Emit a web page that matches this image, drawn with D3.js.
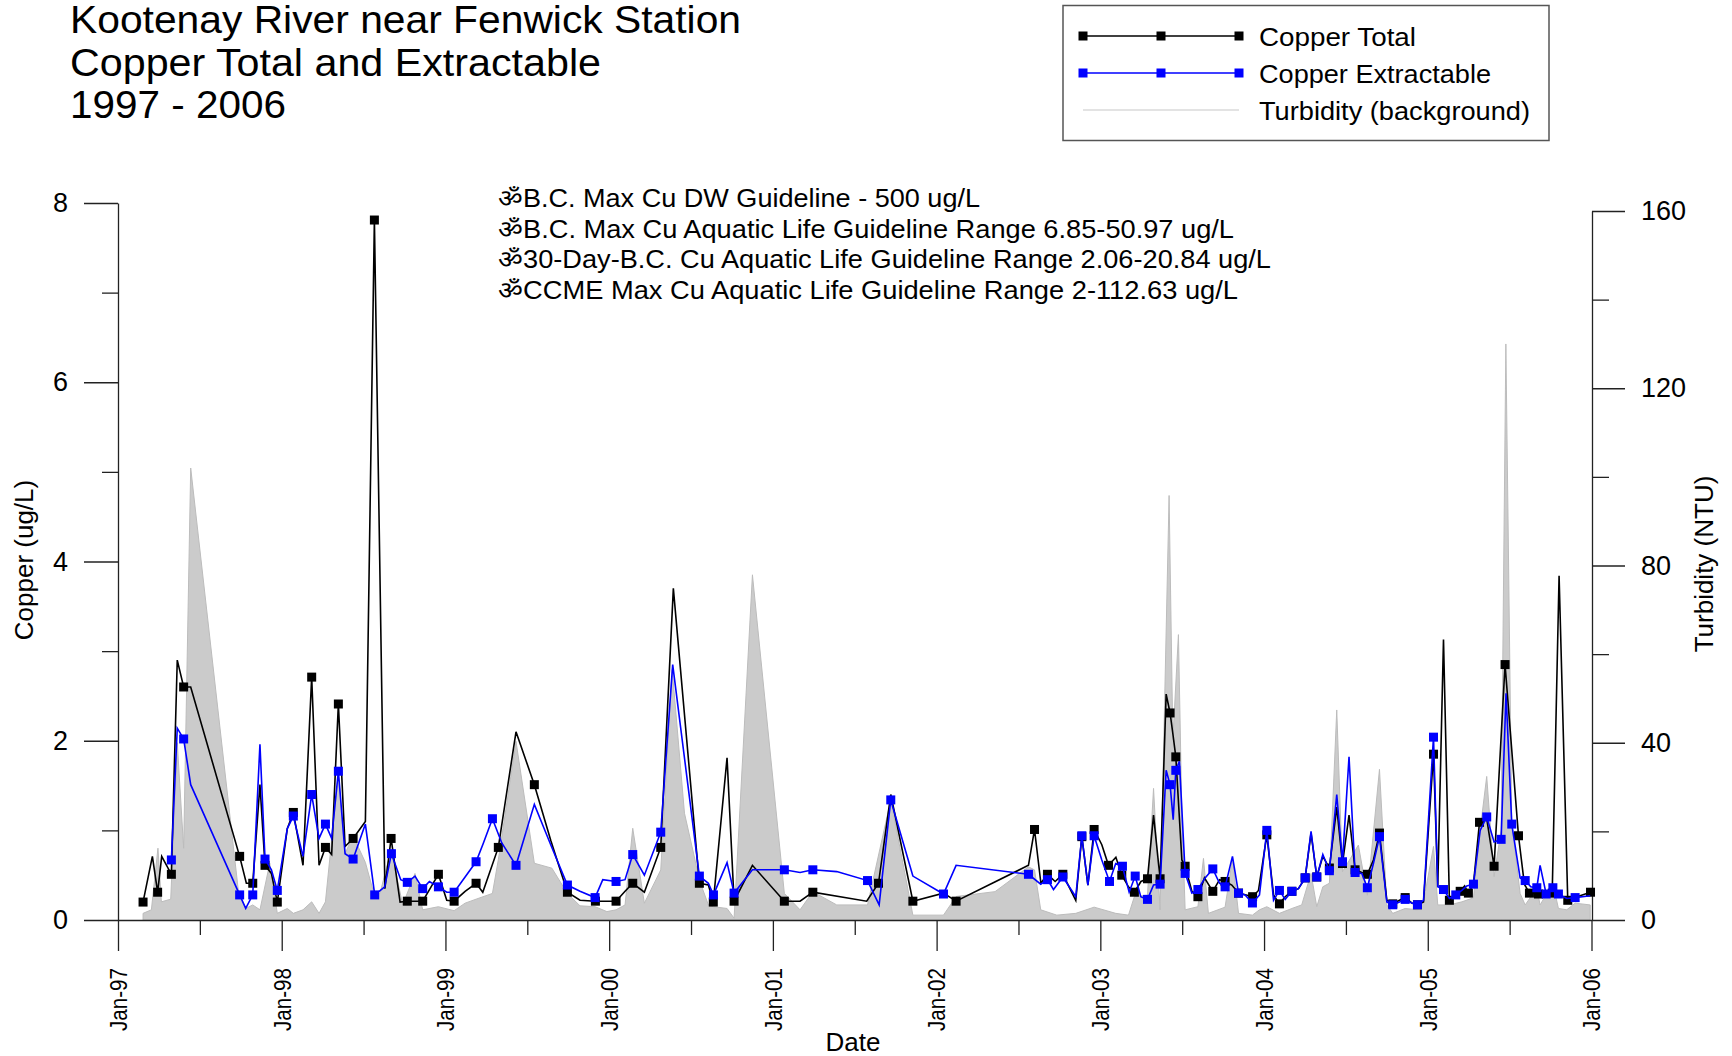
<!DOCTYPE html>
<html>
<head>
<meta charset="utf-8">
<script src="https://cdn.jsdelivr.net/npm/d3@7"></script>
<style>
  body { margin: 0; background: #fff; }
  svg { display: block; font-family: "Liberation Sans", Arial, sans-serif; }
</style>
</head>
<body>
<svg id="chart" width="1732" height="1056"></svg>
<script>
// ---- data ----
var titleLines = ["Kootenay River near Fenwick Station", "Copper Total and Extractable", "1997 - 2006"];
var legendLabels = ["Copper Total", "Copper Extractable", "Turbidity (background)"];
var guidelineNotes = [
  "\u0950B.C. Max Cu DW Guideline - 500 ug/L",
  "\u0950B.C. Max Cu Aquatic Life Guideline Range 6.85-50.97 ug/L",
  "\u095030-Day-B.C. Cu Aquatic Life Guideline Range 2.06-20.84 ug/L",
  "\u0950CCME Max Cu Aquatic Life Guideline Range 2-112.63 ug/L"
];
var dateLabels = ["Jan-97", "Jan-98", "Jan-99", "Jan-00", "Jan-01", "Jan-02", "Jan-03", "Jan-04", "Jan-05", "Jan-06"];
var copperTicks = [0, 2, 4, 6, 8];
var turbidityTicks = [0, 40, 80, 120, 160];

// [decimal year, ug/L, sample symbol shown (1) or not (0)]
var copperTotal = [
  [1997.153,0.20,1],[1997.210,0.71,0],[1997.242,0.31,1],[1997.267,0.71,0],[1997.326,0.51,1],
  [1997.362,2.90,0],[1997.401,2.60,1],[1997.444,2.60,0],[1997.743,0.71,1],[1997.784,0.41,0],
  [1997.823,0.41,1],[1997.867,1.51,0],[1997.898,0.61,1],[1997.937,0.52,0],[1997.973,0.20,1],
  [1998.034,1.02,0],[1998.071,1.20,1],[1998.130,0.61,0],[1998.183,2.71,1],[1998.228,0.61,0],
  [1998.267,0.81,1],[1998.305,0.73,0],[1998.346,2.41,1],[1998.387,0.82,0],[1998.436,0.91,1],
  [1998.511,1.10,0],[1998.566,7.81,1],[1998.630,0.35,0],[1998.668,0.91,1],[1998.723,0.20,0],
  [1998.767,0.21,1],[1998.814,0.21,0],[1998.861,0.21,1],[1998.906,0.35,0],[1998.957,0.51,1],
  [1999.008,0.22,0],[1999.053,0.21,1],[1999.120,0.32,0],[1999.187,0.41,1],[1999.228,0.31,0],
  [1999.323,0.81,1],[1999.431,2.10,0],[1999.543,1.51,1],[1999.643,0.89,0],[1999.745,0.31,1],
  [1999.822,0.22,0],[1999.916,0.21,1],[1999.986,0.21,0],[2000.042,0.21,1],[2000.097,0.32,0],
  [2000.144,0.41,1],[2000.215,0.31,0],[2000.315,0.81,1],[2000.392,3.70,0],[2000.551,0.41,1],
  [2000.606,0.39,0],[2000.636,0.20,1],[2000.720,1.81,0],[2000.763,0.21,1],[2000.875,0.61,0],
  [2001.070,0.21,1],[2001.166,0.21,0],[2001.244,0.31,1],[2001.573,0.21,0],[2001.645,0.41,1],
  [2001.720,1.40,0],[2001.855,0.21,1],[2002.042,0.30,0],[2002.119,0.21,1],[2002.561,0.61,0],
  [2002.598,1.01,1],[2002.637,0.41,0],[2002.677,0.51,1],[2002.724,0.43,0],[2002.771,0.51,1],
  [2002.850,0.22,0],[2002.887,0.93,1],[2002.924,0.39,0],[2002.962,1.01,1],[2003.009,0.84,0],
  [2003.050,0.61,1],[2003.095,0.70,0],[2003.131,0.50,1],[2003.172,0.37,0],[2003.208,0.31,1],
  [2003.248,0.43,0],[2003.288,0.46,1],[2003.325,1.17,0],[2003.365,0.46,1],[2003.402,2.52,0],
  [2003.426,2.31,1],[2003.445,2.05,0],[2003.461,1.82,1],[2003.498,0.67,0],[2003.518,0.60,1],
  [2003.559,0.32,0],[2003.596,0.26,1],[2003.636,0.47,0],[2003.687,0.32,1],[2003.728,0.45,0],
  [2003.762,0.43,1],[2003.803,0.39,0],[2003.844,0.30,1],[2003.891,0.28,0],[2003.930,0.26,1],
  [2003.966,0.33,0],[2004.017,0.95,1],[2004.058,0.28,0],[2004.094,0.18,1],[2004.129,0.26,0],
  [2004.170,0.32,1],[2004.210,0.35,0],[2004.251,0.47,1],[2004.287,0.97,0],[2004.322,0.48,1],
  [2004.359,0.71,0],[2004.399,0.58,1],[2004.444,1.26,0],[2004.479,0.63,1],[2004.519,1.17,0],
  [2004.556,0.56,1],[2004.597,0.53,0],[2004.631,0.51,1],[2004.668,0.67,0],[2004.705,0.97,1],
  [2004.750,0.22,0],[2004.786,0.18,1],[2004.827,0.22,0],[2004.862,0.25,1],[2004.902,0.19,0],
  [2004.937,0.17,1],[2004.974,0.20,0],[2005.035,1.85,1],[2005.061,0.37,0],[2005.096,3.13,0],
  [2005.132,0.22,1],[2005.171,0.28,0],[2005.198,0.32,1],[2005.225,0.38,0],[2005.248,0.30,1],
  [2005.279,0.40,0],[2005.316,1.09,1],[2005.360,1.13,0],[2005.405,0.60,1],[2005.472,2.85,1],
  [2005.554,0.94,1],[2005.590,0.40,0],[2005.621,0.30,1],[2005.650,0.30,0],[2005.676,0.29,1],
  [2005.727,0.29,0],[2005.760,0.30,1],[2005.802,3.84,0],[2005.855,0.22,1],[2005.930,0.27,0],
  [2005.994,0.31,1]
];

var copperExtractable = [
  [1997.326,0.67,1],[1997.362,2.14,0],[1997.401,2.02,1],[1997.444,1.51,0],[1997.743,0.28,1],
  [1997.780,0.13,0],[1997.823,0.28,1],[1997.867,1.96,0],[1997.898,0.68,1],[1997.937,0.56,0],
  [1997.973,0.33,1],[1998.034,1.02,0],[1998.071,1.16,1],[1998.130,0.71,0],[1998.183,1.40,1],
  [1998.228,0.91,0],[1998.267,1.07,1],[1998.305,0.91,0],[1998.346,1.66,1],[1998.387,0.74,0],
  [1998.436,0.68,1],[1998.511,1.07,0],[1998.568,0.28,1],[1998.629,0.37,0],[1998.670,0.74,1],
  [1998.727,0.45,0],[1998.767,0.42,1],[1998.814,0.49,0],[1998.861,0.35,1],[1998.902,0.43,0],
  [1998.957,0.37,1],[1999.008,0.31,0],[1999.053,0.31,1],[1999.120,0.48,0],[1999.187,0.65,1],
  [1999.232,0.86,0],[1999.287,1.13,1],[1999.344,0.86,0],[1999.431,0.61,1],[1999.543,1.29,0],
  [1999.643,0.84,0],[1999.745,0.39,1],[1999.822,0.32,0],[1999.914,0.25,1],[1999.961,0.45,0],
  [2000.042,0.43,1],[2000.097,0.45,0],[2000.144,0.73,1],[2000.215,0.50,0],[2000.315,0.98,1],
  [2000.388,2.85,0],[2000.551,0.49,1],[2000.606,0.41,0],[2000.637,0.28,1],[2000.720,0.64,0],
  [2000.763,0.30,1],[2000.875,0.56,0],[2001.070,0.56,1],[2001.166,0.53,0],[2001.244,0.56,1],
  [2001.390,0.54,0],[2001.578,0.44,1],[2001.649,0.17,0],[2001.720,1.34,1],[2001.855,0.49,0],
  [2002.042,0.29,1],[2002.119,0.61,0],[2002.561,0.51,1],[2002.636,0.40,0],[2002.677,0.45,1],
  [2002.714,0.34,0],[2002.771,0.48,1],[2002.850,0.26,0],[2002.887,0.94,1],[2002.924,0.39,0],
  [2002.962,0.94,1],[2003.009,0.67,0],[2003.056,0.43,1],[2003.094,0.63,0],[2003.135,0.60,1],
  [2003.176,0.31,0],[2003.213,0.49,1],[2003.247,0.26,0],[2003.288,0.23,1],[2003.325,0.39,0],
  [2003.365,0.40,1],[2003.402,1.67,0],[2003.426,1.51,1],[2003.445,1.12,0],[2003.461,1.67,1],
  [2003.483,1.77,0],[2003.518,0.52,1],[2003.559,0.30,0],[2003.596,0.34,1],[2003.640,0.47,0],
  [2003.687,0.57,1],[2003.728,0.41,0],[2003.762,0.37,1],[2003.807,0.71,0],[2003.844,0.30,1],
  [2003.884,0.28,0],[2003.929,0.19,1],[2003.972,0.28,0],[2004.017,1.00,1],[2004.058,0.22,0],
  [2004.094,0.33,1],[2004.129,0.23,0],[2004.170,0.32,1],[2004.210,0.35,0],[2004.251,0.47,1],
  [2004.287,0.99,0],[2004.322,0.48,1],[2004.359,0.73,0],[2004.399,0.55,1],[2004.444,1.40,0],
  [2004.479,0.65,1],[2004.519,1.82,0],[2004.556,0.53,1],[2004.597,0.52,0],[2004.631,0.36,1],
  [2004.668,0.63,0],[2004.705,0.93,1],[2004.750,0.20,0],[2004.786,0.17,1],[2004.827,0.20,0],
  [2004.862,0.23,1],[2004.902,0.19,0],[2004.937,0.17,1],[2004.974,0.22,0],[2005.035,2.04,1],
  [2005.061,0.37,0],[2005.096,0.34,1],[2005.132,0.24,0],[2005.171,0.28,1],[2005.208,0.33,0],
  [2005.238,0.38,0],[2005.279,0.40,1],[2005.320,1.00,0],[2005.360,1.15,1],[2005.405,0.87,0],
  [2005.448,0.90,1],[2005.478,2.53,0],[2005.513,1.07,1],[2005.564,0.47,0],[2005.595,0.44,1],
  [2005.629,0.37,0],[2005.666,0.36,1],[2005.686,0.61,0],[2005.723,0.29,1],[2005.745,0.33,0],
  [2005.764,0.36,1],[2005.782,0.31,0],[2005.798,0.29,1],[2005.849,0.24,0],[2005.900,0.25,1],
  [2005.992,0.27,0]
];

// [decimal year, NTU]
var turbidity = [
  [1997.153,1.5],[1997.204,2.3],[1997.244,16.2],[1997.265,4.1],[1997.322,4.7],[1997.362,40],
  [1997.401,16.2],[1997.444,102],[1997.737,6.0],[1997.780,2.6],[1997.823,3.4],[1997.867,2.3],
  [1997.927,12.8],[1997.973,1.5],[1998.034,2.6],[1998.071,1.5],[1998.130,2.3],[1998.183,4.1],
  [1998.228,1.5],[1998.267,4.1],[1998.346,33],[1998.387,15],[1998.436,19],[1998.511,13],
  [1998.568,5.3],[1998.600,6],[1998.668,15.8],[1998.739,3.4],[1998.814,10.5],[1998.861,2.3],
  [1998.957,3.0],[1999.053,2.1],[1999.120,3.8],[1999.187,4.7],[1999.287,6.0],[1999.323,13.6],
  [1999.431,40.3],[1999.543,12.8],[1999.650,11.7],[1999.745,6.0],[1999.822,3.2],[1999.914,3.0],
  [1999.986,1.9],[2000.042,2.3],[2000.097,3.4],[2000.144,20.7],[2000.215,3.8],[2000.315,11.3],
  [2000.385,56.5],[2000.460,24.1],[2000.515,15.1],[2000.551,9.0],[2000.606,3.4],[2000.637,3.0],
  [2000.720,2.6],[2000.763,0.4],[2000.875,77.9],[2001.070,6.0],[2001.166,2.3],[2001.244,6.4],
  [2001.390,3.4],[2001.578,3.4],[2001.720,27.1],[2001.855,1.1],[2002.042,1.1],[2002.119,5.3],
  [2002.357,6.4],[2002.561,12.0],[2002.598,11.3],[2002.636,2.3],[2002.734,1.1],[2002.850,1.5],
  [2002.962,2.9],[2003.094,1.5],[2003.172,1.1],[2003.208,5.3],[2003.288,5.6],[2003.325,29.7],
  [2003.365,2.3],[2003.420,95.8],[2003.443,40.7],[2003.477,64.4],[2003.498,24],[2003.518,2.3],
  [2003.596,3.0],[2003.630,13.9],[2003.660,1.5],[2003.762,2.9],[2003.807,13.9],[2003.844,1.5],
  [2003.929,1.1],[2003.972,2.3],[2004.017,3.0],[2004.094,1.5],[2004.170,2.6],[2004.230,3.4],
  [2004.287,10.5],[2004.322,3.0],[2004.359,7.5],[2004.399,8.3],[2004.444,47.4],[2004.479,10.9],
  [2004.576,16.9],[2004.631,5.6],[2004.705,34.0],[2004.750,3.4],[2004.786,1.5],[2004.862,2.6],
  [2004.937,2.3],[2004.974,4.1],[2005.035,16.6],[2005.061,3.4],[2005.132,3.4],[2005.208,4.1],
  [2005.279,5.0],[2005.320,20.3],[2005.360,32.4],[2005.405,9.8],[2005.448,20.3],[2005.477,130],
  [2005.513,21.8],[2005.564,6.0],[2005.595,3.4],[2005.666,7.2],[2005.686,3.4],[2005.764,8.3],
  [2005.798,2.6],[2005.849,2.3],[2005.900,3.8],[2005.992,3.4]
];

// ---- chart ----
var svg = d3.select('#chart');
var axisColor = '#222';

var x = d3.scaleLinear().domain([1997, 2006]).range([118, 1591.5]);
var yCu = d3.scaleLinear().domain([0, 8]).range([920, 203]);
var yTurb = d3.scaleLinear().domain([0, 160]).range([920, 211]);

// stretch a text element to a measured width
function fit(sel, w) {
  sel.attr('textLength', w).attr('lengthAdjust', 'spacingAndGlyphs');
}

// turbidity as grey background area
var area = d3.area()
  .x(function(d) { return x(d[0]); })
  .y0(yTurb(0))
  .y1(function(d) { return yTurb(d[1]); });

svg.append('path')
  .datum(turbidity)
  .attr('d', area)
  .attr('fill', '#cbcbcb')
  .attr('stroke', '#bcbcbc')
  .attr('stroke-width', 1);

// axes
function styleAxis(g) {
  g.selectAll('path, line').attr('stroke', axisColor).attr('stroke-width', 1.3);
  g.attr('font-family', null).attr('font-size', null);
}

// left copper axis
svg.append('g')
  .attr('transform', 'translate(118,0)')
  .call(d3.axisLeft(yCu).tickValues(copperTicks).tickSize(34).tickSizeOuter(0).tickPadding(16))
  .call(styleAxis)
  .selectAll('text').attr('font-size', 27).attr('fill', '#000');
svg.append('g')
  .attr('transform', 'translate(118,0)')
  .call(d3.axisLeft(yCu).tickValues([1, 3, 5, 7]).tickSize(16).tickSizeOuter(0).tickFormat(''))
  .call(styleAxis)
  .select('.domain').remove();

// right turbidity axis
svg.append('g')
  .attr('transform', 'translate(1592,0)')
  .call(d3.axisRight(yTurb).tickValues(turbidityTicks).tickSize(33).tickSizeOuter(0).tickPadding(16))
  .call(styleAxis)
  .selectAll('text').attr('font-size', 27).attr('fill', '#000');
svg.append('g')
  .attr('transform', 'translate(1592,0)')
  .call(d3.axisRight(yTurb).tickValues([20, 60, 100, 140]).tickSize(17).tickSizeOuter(0).tickFormat(''))
  .call(styleAxis)
  .select('.domain').remove();

// bottom date axis
var years = d3.range(1997, 2007);
var xAxisG = svg.append('g')
  .attr('transform', 'translate(0,920)')
  .call(d3.axisBottom(x).tickValues(years).tickSize(31).tickSizeOuter(0)
    .tickFormat(function(d, i) { return dateLabels[i]; }))
  .call(styleAxis);
xAxisG.selectAll('text')
  .attr('font-size', 23)
  .attr('fill', '#000')
  .attr('transform', 'rotate(-90)')
  .attr('x', -48)
  .attr('y', 0)
  .attr('dy', '0.36em')
  .style('text-anchor', 'end')
  .each(function() { fit(d3.select(this), 63); });
svg.append('g')
  .attr('transform', 'translate(0,920)')
  .call(d3.axisBottom(x).tickValues(years.slice(0, -1).map(function(y) { return y + 0.5; }))
    .tickSize(15).tickSizeOuter(0).tickFormat(''))
  .call(styleAxis)
  .select('.domain').remove();

// axis titles
svg.append('text')
  .attr('transform', 'translate(33,560) rotate(-90)')
  .attr('text-anchor', 'middle')
  .attr('font-size', 26)
  .text('Copper (ug/L)');
svg.append('text')
  .attr('transform', 'translate(1713,564) rotate(-90)')
  .attr('text-anchor', 'middle')
  .attr('font-size', 26)
  .text('Turbidity (NTU)');
svg.append('text')
  .attr('x', 853)
  .attr('y', 1051)
  .attr('text-anchor', 'middle')
  .attr('font-size', 26)
  .text('Date');

// copper series: total (black) below extractable (blue)
var line = d3.line()
  .x(function(d) { return x(d[0]); })
  .y(function(d) { return yCu(d[1]); });

function drawSeries(data, color) {
  svg.append('path')
    .datum(data)
    .attr('d', line)
    .attr('fill', 'none')
    .attr('stroke', color)
    .attr('stroke-width', 1.6)
    .attr('stroke-linejoin', 'miter');
  svg.append('g').selectAll('rect')
    .data(data.filter(function(d) { return d[2]; }))
    .enter().append('rect')
    .attr('x', function(d) { return x(d[0]) - 4.5; })
    .attr('y', function(d) { return yCu(d[1]) - 4.5; })
    .attr('width', 9)
    .attr('height', 9)
    .attr('fill', color);
}
drawSeries(copperTotal, '#000');
drawSeries(copperExtractable, '#0000ff');

// guideline notes
var notes = svg.append('g').attr('font-size', 25);
var noteWidths = [482, 736, 773, 740];
guidelineNotes.forEach(function(t, i) {
  notes.append('text')
    .attr('x', 498)
    .attr('y', 207 + i * 30.5)
    .text(t)
    .call(fit, noteWidths[i]);
});

// title (condensed, taller lettering as in the original)
var titleWidths = [671, 531, 216];
titleLines.forEach(function(t, i) {
  svg.append('text')
    .attr('x', 70)
    .attr('y', 33 + i * 42.5)
    .attr('font-size', 38)
    .text(t)
    .call(fit, titleWidths[i]);
});

// legend
var legend = svg.append('g');
legend.append('rect')
  .attr('x', 1063).attr('y', 5.5)
  .attr('width', 486).attr('height', 135)
  .attr('fill', '#fff')
  .attr('stroke', '#555')
  .attr('stroke-width', 1.5);
var legendColors = ['#000', '#0000ff', '#c8c8c8'];
var legendWidths = [157, 232, 271];
legendLabels.forEach(function(label, i) {
  var cy = 36 + i * 37;
  legend.append('line')
    .attr('x1', 1083).attr('x2', 1239)
    .attr('y1', cy).attr('y2', cy)
    .attr('stroke', legendColors[i])
    .attr('stroke-width', i < 2 ? 1.6 : 1.2);
  if (i < 2) {
    [1083, 1161, 1239].forEach(function(mx) {
      legend.append('rect')
        .attr('x', mx - 4.5).attr('y', cy - 4.5)
        .attr('width', 9).attr('height', 9)
        .attr('fill', legendColors[i]);
    });
  }
  legend.append('text')
    .attr('x', 1259)
    .attr('y', cy + 9.5)
    .attr('font-size', 26)
    .text(label)
    .call(fit, legendWidths[i]);
});
</script>
</body>
</html>
